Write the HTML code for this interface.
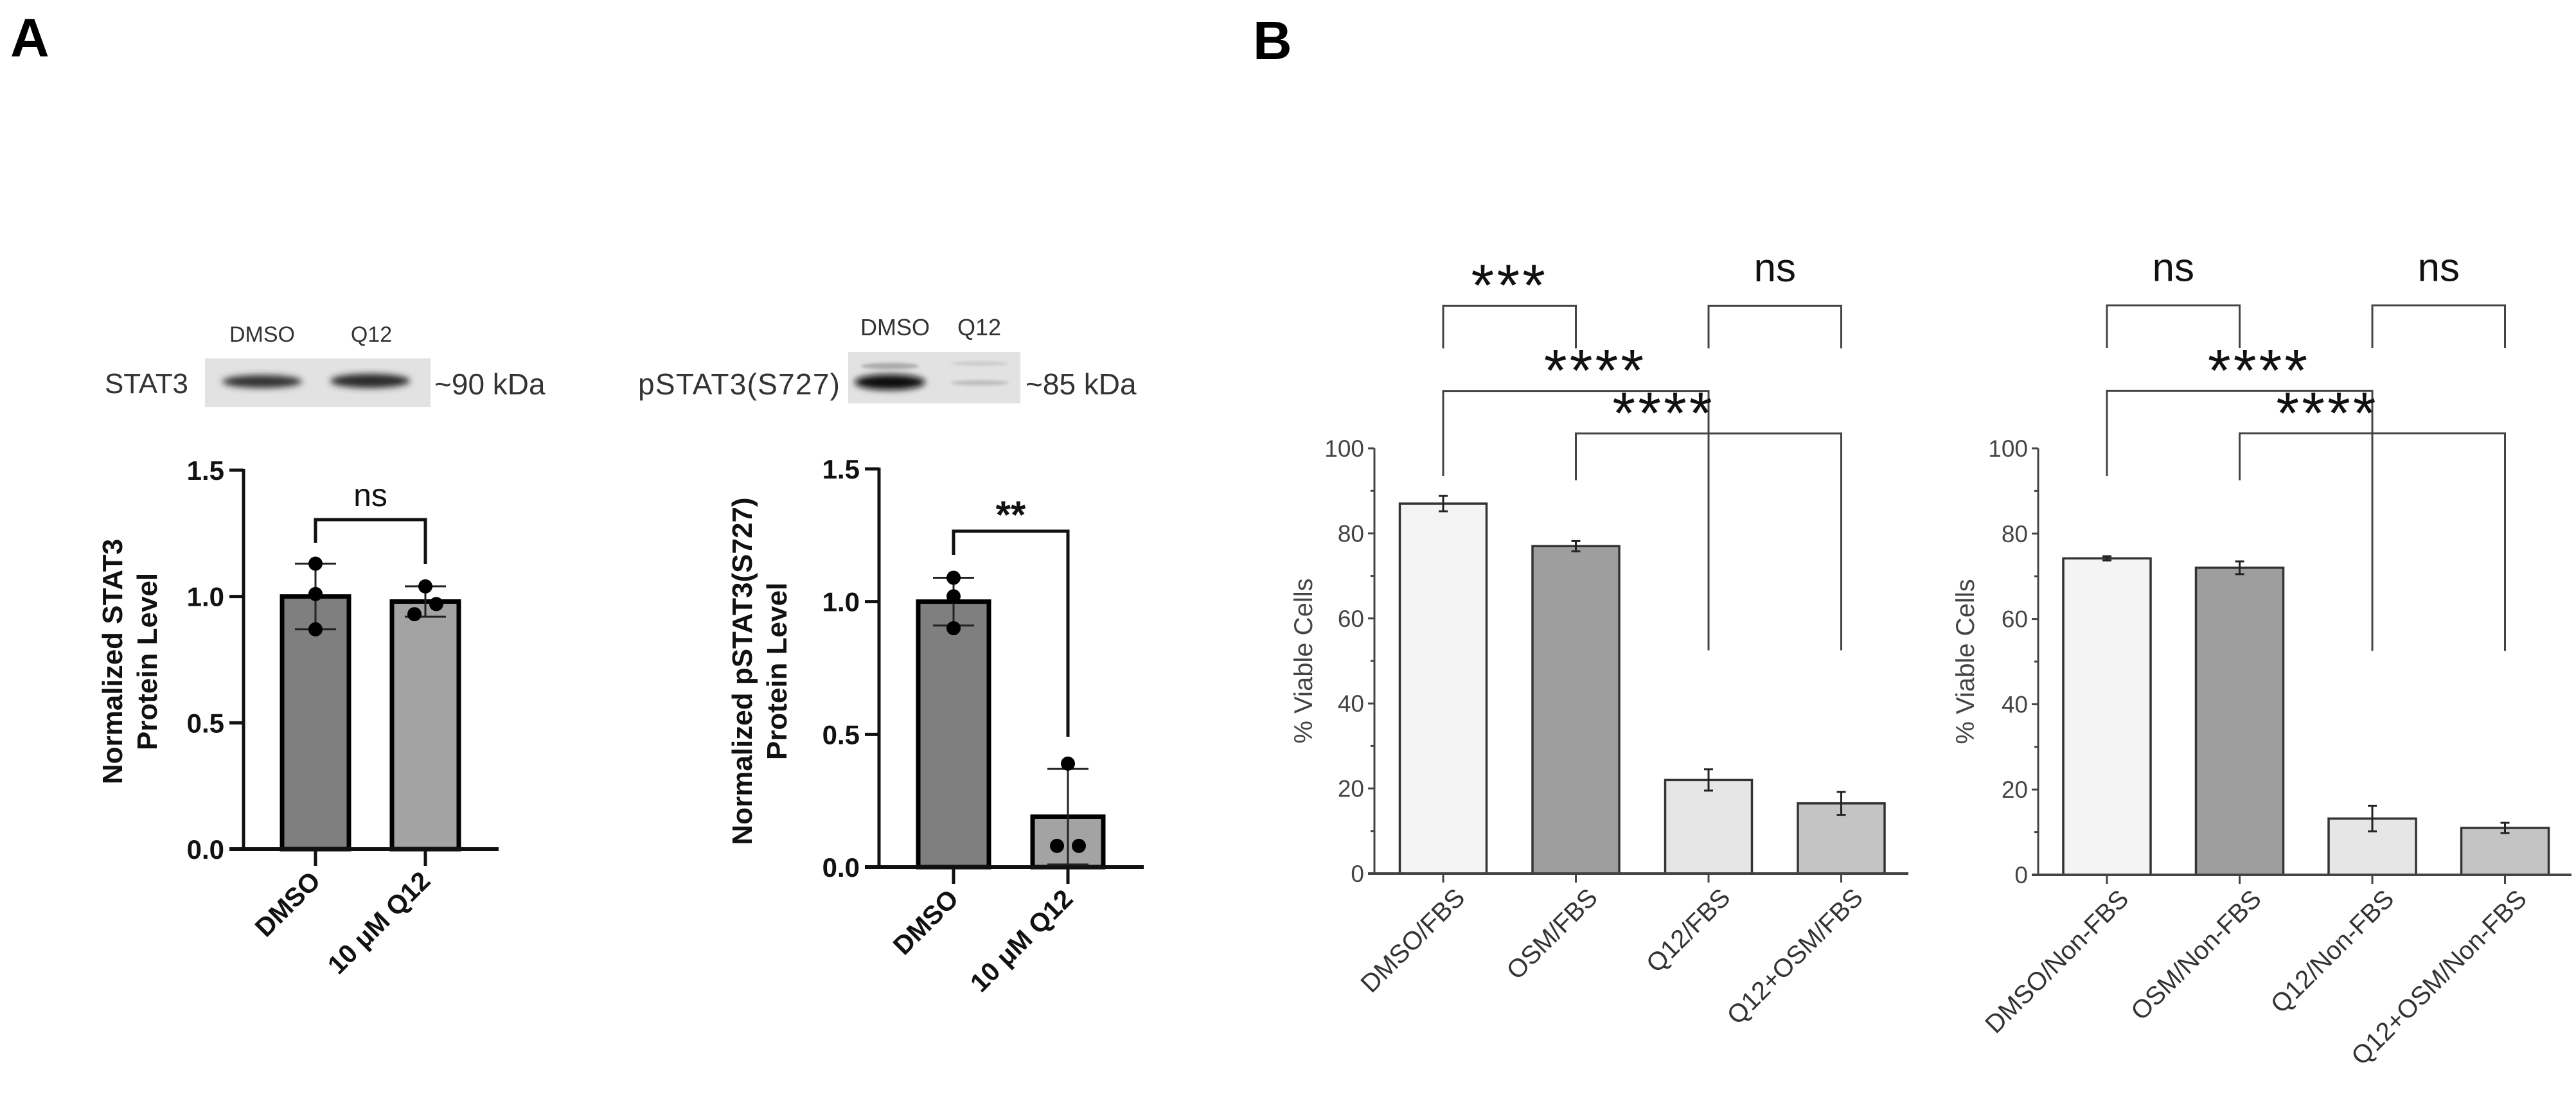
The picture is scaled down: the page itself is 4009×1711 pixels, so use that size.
<!DOCTYPE html>
<html><head><meta charset="utf-8">
<style>
html,body{margin:0;padding:0;background:#fff;}
svg{display:block;}
text{font-family:"Liberation Sans",Arial,sans-serif;}
</style></head>
<body>
<svg id="fig" xmlns="http://www.w3.org/2000/svg" width="4009" height="1711" viewBox="0 0 4009 1711">
<defs>
<filter id="blur4" x="-20%" y="-50%" width="140%" height="200%"><feGaussianBlur stdDeviation="5"/></filter>
<filter id="blur2" x="-20%" y="-50%" width="140%" height="200%"><feGaussianBlur stdDeviation="2.5"/></filter>
</defs>
<text x="16" y="88" font-size="84" font-weight="bold">A</text>
<text x="1950" y="92" font-size="84" font-weight="bold">B</text>

<g>
<text x="408" y="532" font-size="34" text-anchor="middle" fill="#333">DMSO</text>
<text x="578" y="532" font-size="34" text-anchor="middle" fill="#333">Q12</text>
<text x="163" y="612" font-size="44" fill="#333" textLength="130">STAT3</text>
<rect x="319" y="558" width="351" height="76" fill="#e2e2e2"/>
<ellipse cx="408" cy="594" rx="62" ry="10" fill="#333" filter="url(#blur4)"/>
<ellipse cx="576" cy="593" rx="62" ry="11" fill="#2a2a2a" filter="url(#blur4)"/>
<line x1="340" y1="627" x2="640" y2="627" stroke="#bbb" stroke-width="4" filter="url(#blur2)"/>
<text x="676" y="614" font-size="46" fill="#333">~90 kDa</text>
</g>

<g>
<text x="1393" y="522" font-size="36" text-anchor="middle" fill="#333">DMSO</text>
<text x="1524" y="522" font-size="36" text-anchor="middle" fill="#333">Q12</text>
<text x="993" y="614" font-size="46" fill="#333" textLength="314">pSTAT3(S727)</text>
<rect x="1320" y="548" width="268" height="80" fill="#e2e2e2"/>
<ellipse cx="1385" cy="595" rx="55" ry="12" fill="#111" filter="url(#blur4)"/>
<ellipse cx="1385" cy="570" rx="45" ry="5" fill="#aaa" filter="url(#blur2)"/>
<ellipse cx="1525" cy="596" rx="45" ry="4" fill="#bdbdbd" filter="url(#blur2)"/>
<ellipse cx="1525" cy="566" rx="45" ry="3" fill="#c8c8c8" filter="url(#blur2)"/>
<text x="1596" y="614" font-size="46" fill="#333">~85 kDa</text>
</g>

<g id="charts"></g>
</svg>
<script>
const catA = ["DMSO", "10 \u03bcM Q12"];
const stat3Means = [1.00, 0.98];
const stat3Sd = [0.13, 0.06];
const stat3Points = [[1.13, 1.01, 0.87], [1.04, 0.97, 0.93]];
const pstat3Means = [1.00, 0.19];
const pstat3Sd = [0.09, 0.18];
const pstat3Points = [[1.09, 1.02, 0.90], [0.39, 0.08, 0.08]];
const ticksA = [0.0, 0.5, 1.0, 1.5];
const tickLabelsA = ["0.0", "0.5", "1.0", "1.5"];
const catFBS = ["DMSO/FBS", "OSM/FBS", "Q12/FBS", "Q12+OSM/FBS"];
const fbsMeans = [87.0, 77.0, 22.0, 16.5];
const fbsErr = [1.8, 1.2, 2.5, 2.7];
const catNon = ["DMSO/Non-FBS", "OSM/Non-FBS", "Q12/Non-FBS", "Q12+OSM/Non-FBS"];
const nonMeans = [74.2, 72.0, 13.2, 11.0];
const nonErr = [0.5, 1.5, 3.0, 1.2];
const ticksB = [0, 20, 40, 60, 80, 100];
const minorTicksB = [10, 30, 50, 70, 90];
const fillsB = ["#f4f4f4", "#9e9e9e", "#e6e6e6", "#c4c4c4"];
const sigFBS = [[0, 1, 133.5, 123.5, 123.5, "***"], [2, 3, 133.5, 123.5, 123.5, "ns"], [0, 2, 113.5, 93.5, 52.5, "****"], [1, 3, 103.5, 92.5, 52.5, "****"]];
const sigNon = [[0, 1, 133.5, 123.5, 123.5, "ns"], [2, 3, 133.5, 123.5, 123.5, "ns"], [0, 2, 113.5, 93.5, 52.5, "****"], [1, 3, 103.5, 92.5, 52.5, "****"]];

const NS = "http://www.w3.org/2000/svg";
const root = document.getElementById("charts");
function mk(tag, attrs, parent, txt) {
  const e = document.createElementNS(NS, tag);
  for (const k in attrs) e.setAttribute(k, attrs[k]);
  if (txt !== undefined) e.textContent = txt;
  (parent || root).appendChild(e);
  return e;
}

function chartA(cfg, means, sds, pts, sigLabel) {
  const g = mk("g", {});
  
  
  const y = v => cfg.y0 - (v / 1.5) * (cfg.y0 - cfg.y15);
  const xc = i => cfg.xs[i];
  const ax = mk("line", {x1: cfg.ax, y1: y(1.5) - 2, x2: cfg.ax, y2: cfg.y0, stroke: "#111", "stroke-width": 5}, g);
  
  
  ticksA.forEach((t, i) => {
    mk("line", {x1: cfg.ax - 22, y1: y(t), x2: cfg.ax, y2: y(t), stroke: "#111", "stroke-width": 5}, g);
    const tl = mk("text", {x: cfg.ax - 30, y: y(t) + 15, "font-size": 42, "font-weight": "bold", "text-anchor": "end", fill: "#111"}, g, tickLabelsA[i]);
    
    
  });
  means.forEach((m, i) => {
    const b = mk("rect", {x: xc(i) - cfg.bw / 2, y: y(m), width: cfg.bw, height: cfg.y0 - y(m), fill: cfg.fills[i], stroke: "#000", "stroke-width": 7}, g);
    
    
  });
  const xa = mk("line", {x1: cfg.ax - 22, y1: cfg.y0, x2: cfg.axEnd, y2: cfg.y0, stroke: "#111", "stroke-width": 6}, g);
  
  
  means.forEach((m, i) => {
    const hi = m + sds[i], lo = Math.max(0, m - sds[i]);
    mk("line", {x1: xc(i), y1: y(hi), x2: xc(i), y2: y(lo), stroke: "#222", "stroke-width": 3}, g);
    mk("line", {x1: xc(i) - 32, y1: y(hi), x2: xc(i) + 32, y2: y(hi), stroke: "#222", "stroke-width": 3}, g);
    mk("line", {x1: xc(i) - 32, y1: y(lo), x2: xc(i) + 32, y2: y(lo), stroke: "#222", "stroke-width": 3}, g);
    pts[i].forEach((p, j) => {
      let dx = 0;
      if (i === 1) dx = [0, 17, -17][j];
      const c = mk("circle", {cx: xc(i) + dx, cy: y(p), r: 11, fill: "#000"}, g);
      
      
    });
    mk("line", {x1: xc(i), y1: cfg.y0, x2: xc(i), y2: cfg.y0 + 26, stroke: "#111", "stroke-width": 5}, g);
    const lab = mk("text", {x: 0, y: 0, "font-size": 41, "font-weight": "bold", "text-anchor": "end", fill: "#111",
      transform: `translate(${xc(i) + 10},${cfg.y0 + 52}) rotate(-45)`}, g, catA[i]);
    
    
  });
  const s = mk("path", {d: `M${xc(0)},${cfg.sigL} V${cfg.sigY} H${xc(1)} V${cfg.sigR}`, fill: "none", stroke: "#111", "stroke-width": 5}, g);
  
  
  const st = mk("text", {x: (xc(0) + xc(1)) / 2, y: cfg.sigTextY, "font-size": cfg.sigSize, "font-weight": cfg.sigWeight, "text-anchor": "middle", fill: "#111"}, g, sigLabel);
  
  
  const t = mk("text", {x: 0, y: 0, "font-size": 44, "font-weight": "bold", "text-anchor": "middle", fill: "#111",
    transform: `translate(${cfg.titleX},${cfg.titleY}) rotate(-90)`}, g);
  
  
  mk("tspan", {x: 0, dy: 0}, t, cfg.title[0]);
  mk("tspan", {x: 0, dy: 54}, t, cfg.title[1]);
}

chartA({name: "stat3-chart", ax: 379, axEnd: 776, y0: 1322, y15: 732, xs: [491, 662], bw: 104,
  fills: ["#7f7f7f", "#a3a3a3"], sigY: 809, sigL: 845, sigR: 878, sigTextY: 788, sigSize: 50, sigWeight: "normal",
  titleX: 190, titleY: 1030, title: ["Normalized STAT3", "Protein Level"]},
  stat3Means, stat3Sd, stat3Points, "ns");
chartA({name: "pstat3-chart", ax: 1368, axEnd: 1780, y0: 1350, y15: 730, xs: [1484, 1662], bw: 110,
  fills: ["#7f7f7f", "#a3a3a3"], sigY: 827, sigL: 864, sigR: 1147, sigTextY: 822, sigSize: 60, sigWeight: "bold",
  titleX: 1170, titleY: 1045, title: ["Normalized pSTAT3(S727)", "Protein Level"]},
  pstat3Means, pstat3Sd, pstat3Points, "**");

function chartB(cfg, cats, means, errs, sigs) {
  const g = mk("g", {});
  
  
  const y = v => cfg.y0 - v * (cfg.y0 - cfg.y100) / 100;
  const xc = i => cfg.x0 + cfg.step * i;
  const ya = mk("line", {x1: cfg.ax, y1: y(100), x2: cfg.ax, y2: cfg.y0, stroke: "#444", "stroke-width": 3}, g);
  
  
  ticksB.forEach(t => {
    mk("line", {x1: cfg.ax - 10, y1: y(t), x2: cfg.ax, y2: y(t), stroke: "#444", "stroke-width": 3}, g);
    const tl = mk("text", {x: cfg.ax - 16, y: y(t) + 13, "font-size": 37, "text-anchor": "end", fill: "#444"}, g, String(t));
    
    
  });
  minorTicksB.forEach(t => mk("line", {x1: cfg.ax - 6, y1: y(t), x2: cfg.ax, y2: y(t), stroke: "#444", "stroke-width": 3}, g));
  means.forEach((m, i) => {
    const b = mk("rect", {x: xc(i) - cfg.bw / 2, y: y(m), width: cfg.bw, height: cfg.y0 - y(m), fill: fillsB[i], stroke: "#333", "stroke-width": 3.5}, g);
    
    
    const hi = m + errs[i], lo = m - errs[i];
    mk("path", {d: `M${xc(i)},${y(hi)} V${y(lo)} M${xc(i) - 7},${y(hi)} H${xc(i) + 7} M${xc(i) - 7},${y(lo)} H${xc(i) + 7}`, stroke: "#222", "stroke-width": 3, fill: "none"}, g);
    mk("line", {x1: xc(i), y1: cfg.y0, x2: xc(i), y2: cfg.y0 + 14, stroke: "#444", "stroke-width": 3}, g);
    const lab = mk("text", {x: 0, y: 0, "font-size": 40, "text-anchor": "end", fill: "#333",
      transform: `translate(${xc(i) + 36},${cfg.y0 + 40}) rotate(-45)`}, g, cats[i]);
    
    
  });
  const xa = mk("line", {x1: cfg.ax - 10, y1: cfg.y0, x2: cfg.axEnd, y2: cfg.y0, stroke: "#444", "stroke-width": 4}, g);
  
  
  sigs.forEach(s => {
    const [a, b, lvl, dl, dr, label] = s;
    const br = mk("path", {d: `M${xc(a)},${y(dl)} V${y(lvl)} H${xc(b)} V${y(dr)}`, fill: "none", stroke: "#444", "stroke-width": 3}, g);
    
    
    const isStar = label.indexOf("*") >= 0;
    const tx = (label === "****" && a === 1) ? (xc(a) + xc(b)) / 2 - 70 : (xc(a) + xc(b)) / 2 + (label === "****" ? 30 : 0);
    const st = mk("text", {x: tx, y: y(lvl) + (isStar ? 0 : -38), "font-size": isStar ? 92 : 62, "text-anchor": "middle", fill: "#111",
      "letter-spacing": isStar ? 4 : 0}, g, label);
    
    
  });
  const t = mk("text", {x: 0, y: 0, "font-size": 40, "text-anchor": "middle", fill: "#444",
    transform: `translate(${cfg.titleX},${y(50)}) rotate(-90)`}, g, "% Viable Cells");
  
  
}

chartB({name: "viability-fbs-chart", ax: 2139, axEnd: 2970, y0: 1360, y100: 698, x0: 2246, step: 206.5, bw: 135, titleX: 2042},
  catFBS, fbsMeans, fbsErr, sigFBS);
chartB({name: "viability-non-fbs-chart", ax: 3172, axEnd: 4002, y0: 1362, y100: 698, x0: 3279, step: 206.5, bw: 136, titleX: 3072},
  catNon, nonMeans, nonErr, sigNon);
</script>
</body></html>
